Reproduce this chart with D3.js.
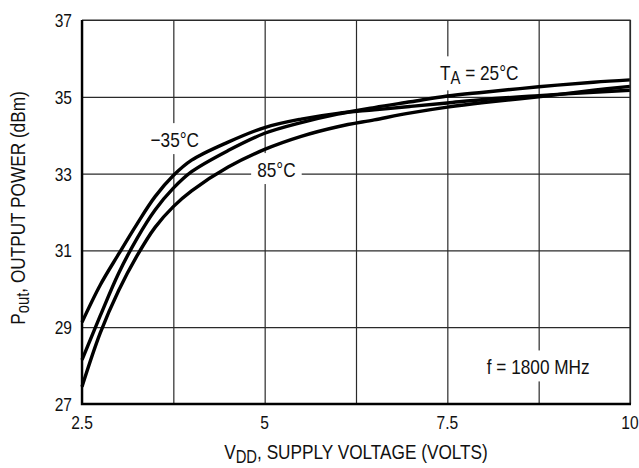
<!DOCTYPE html>
<html>
<head>
<meta charset="utf-8">
<script src="https://cdn.jsdelivr.net/npm/d3@7"></script>
<style>
  html, body { margin: 0; padding: 0; background: #fff; }
  svg { display: block; font-family: 'Liberation Sans', Arial, Helvetica, sans-serif; }
</style>
</head>
<body>
<div id="chart"></div>
<script>
// supply voltage samples (volts)
const vdd = [2.5, 2.75, 3.0, 3.25, 3.5, 3.75, 4.0, 4.5, 5.0, 5.5, 6.0, 6.5, 7.0, 7.5, 8.0, 8.75, 9.5, 10];
// output power (dBm) per temperature
const pMinus35 = [29.13, 30.1, 30.9, 31.68, 32.4, 32.95, 33.35, 33.82, 34.2, 34.42, 34.57, 34.66, 34.75, 34.84, 34.93, 35.03, 35.12, 35.17];
const p25 = [28.15, 29.3, 30.4, 31.3, 32.05, 32.62, 33.05, 33.6, 34.05, 34.33, 34.55, 34.72, 34.87, 35.02, 35.12, 35.26, 35.38, 35.44];
const p85 = [27.45, 28.85, 29.95, 30.85, 31.6, 32.14, 32.55, 33.17, 33.63, 33.97, 34.22, 34.4, 34.58, 34.73, 34.85, 35.0, 35.17, 35.27];

const xGrid = [2.5, 3.75, 5, 6.25, 7.5, 8.75, 10];
const xTicks = [2.5, 5, 7.5, 10];
const yTicks = [27, 29, 31, 33, 35, 37];

const width = 639;
const height = 468;
const margin = { top: 20, right: 9, bottom: 64, left: 82 };
const chartWidth = width - margin.left - margin.right;
const chartHeight = height - margin.top - margin.bottom;

// the original uses a condensed Helvetica, squeeze Liberation Sans to match
const NARROW = 0.82;

const svg = d3.select('#chart').append('svg')
  .attr('width', width)
  .attr('height', height);

const g = svg.append('g').attr('transform', `translate(${margin.left},${margin.top})`);

const xScale = d3.scaleLinear().domain([2.5, 10]).range([0, chartWidth]);
const yScale = d3.scaleLinear().domain([27, 37]).range([chartHeight, 0]);

// text with optional subscript parts: parts = [[text, isSub], ...]
function addLabel(parent, x, y, parts, size, anchor, angle) {
  const outer = parent.append('g')
    .attr('transform', `translate(${x},${y}) rotate(${angle || 0})`);
  const text = outer.append('g')
    .attr('transform', `scale(${NARROW},1)`)
    .append('text')
      .attr('font-size', size)
      .attr('fill', '#111')
      .attr('text-anchor', anchor || 'start');
  const shift = size * 0.2;
  let shifted = false;
  parts.forEach(([s, sub]) => {
    const span = text.append('tspan').text(s);
    if (sub && !shifted) { span.attr('dy', shift).attr('font-size', size * 0.86); shifted = true; }
    else if (!sub && shifted) { span.attr('dy', -shift); shifted = false; }
    else if (sub) span.attr('font-size', size * 0.86);
  });
  return outer;
}

// label sitting on a white patch that breaks the grid lines
function addBoxedLabel(parent, v, p, parts, size, anchor) {
  const lbl = addLabel(parent, xScale(v), yScale(p), parts, size, anchor);
  const box = lbl.node().getBBox();
  lbl.insert('rect', ':first-child')
    .attr('x', box.x - 6)
    .attr('y', box.y - 5)
    .attr('width', box.width + 12)
    .attr('height', box.height + 8)
    .attr('fill', '#fff');
  return lbl;
}

// grid
g.append('g')
  .attr('transform', `translate(0,${chartHeight})`)
  .call(d3.axisBottom(xScale).tickValues(xGrid).tickSize(-chartHeight).tickFormat(''))
  .call(a => a.select('.domain').remove())
  .call(a => a.selectAll('line').attr('stroke', '#2a2a2a').attr('stroke-width', 1.2));

g.append('g')
  .call(d3.axisLeft(yScale).tickValues(yTicks).tickSize(-chartWidth).tickFormat(''))
  .call(a => a.select('.domain').remove())
  .call(a => a.selectAll('line').attr('stroke', '#2a2a2a').attr('stroke-width', 1.2));

// annotations
addBoxedLabel(g, 3.77, 33.70, [['\u221235\u00b0C']], 21, 'middle');
addBoxedLabel(g, 5.16, 32.92, [['85\u00b0C']], 21, 'middle');
addBoxedLabel(g, 7.40, 35.44, [['T'], ['A', true], [' = 25\u00b0C']], 21, 'start');
addBoxedLabel(g, 8.04, 27.78, [['f = 1800 MHz']], 21, 'start');

// curves
const drawLine = d3.line()
  .x(d => xScale(d[0]))
  .y(d => yScale(d[1]))
  .curve(d3.curveCatmullRom.alpha(0.5));

[pMinus35, p25, p85].forEach((series) => {
  g.append('path')
    .datum(vdd.map((v, i) => [v, series[i]]))
    .attr('fill', 'none')
    .attr('stroke', '#000')
    .attr('stroke-width', 3.4)
    .attr('stroke-linejoin', 'round')
    .attr('d', drawLine);
});

// frame: thin top/right, heavy left/bottom
g.append('path')
  .attr('d', `M0,0H${chartWidth}V${chartHeight}`)
  .attr('fill', 'none')
  .attr('stroke', '#2a2a2a')
  .attr('stroke-width', 1.2);
g.append('path')
  .attr('d', `M0,0V${chartHeight}H${chartWidth + 1}`)
  .attr('fill', 'none')
  .attr('stroke', '#000')
  .attr('stroke-width', 2.4);

// tick labels
xTicks.forEach(v => addLabel(g, xScale(v), chartHeight + 25, [[String(v)]], 19, 'middle'));
yTicks.forEach(v => addLabel(g, -10, yScale(v) + 7, [[String(v)]], 19, 'end'));

// axis titles
addLabel(svg, margin.left + chartWidth / 2, 459,
  [['V'], ['DD', true], [', SUPPLY VOLTAGE (VOLTS)']], 21, 'middle');
addLabel(svg, 25, 208,
  [['P'], ['out', true], [', OUTPUT POWER (dBm)']], 21, 'middle', -90);
</script>
</body>
</html>
